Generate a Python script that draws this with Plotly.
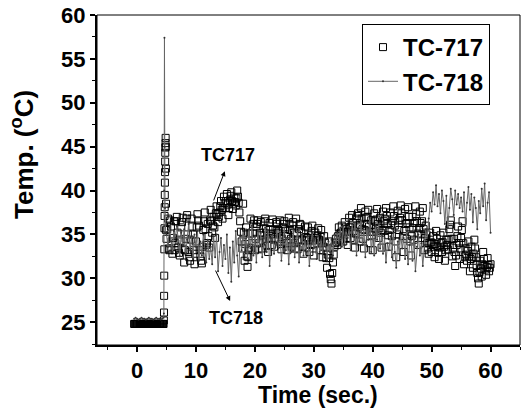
import numpy as np
import plotly.graph_objects as go

# ---------------- data ----------------
# TC-717 (squares) - pre-heating baseline, densely sampled
t717_pre_start, t717_pre_step = -0.5, 0.1
v717_pre = [24.8, 24.8, 24.8, 24.8, 24.8, 24.8, 24.8, 24.8, 24.8, 24.8,
            24.8, 24.8, 24.8, 24.8, 24.8, 24.8, 24.8, 24.8, 24.8, 24.8,
            24.8, 24.8, 24.8, 24.8, 24.8, 24.8, 24.8, 24.8, 24.8, 24.8,
            24.8, 24.8, 24.8, 24.8, 24.8, 24.8, 24.8, 24.8, 24.8, 24.8,
            24.8, 24.8, 24.8, 24.8, 24.8, 24.8, 24.8, 24.8, 24.8, 24.8,
            24.8]
t717_spike = [4.55, 4.57, 4.59, 4.61, 4.63, 4.65, 4.67, 4.69, 4.71, 4.73, 4.75, 4.77, 4.79,
              4.81, 4.83, 4.85, 4.87, 4.89, 4.91, 4.93]
v717_spike = [25.2, 26.1, 28.0, 30.3, 33.3, 35.7, 37.1, 38.1, 39.5, 40.9, 42.1, 43.3, 44.3,
              44.9, 45.4, 46.0, 45.0, 42.5, 38.5, 35.5]
t_main_start, t_main_step = 5.0, 0.25
# samples at t = 5.0, 5.25, ... 60.0
v717_main = [
    34.5, 36.8, 33.2, 35.9,  32.8, 36.5, 34.0, 37.0,  33.5, 32.6, 35.8, 36.9,
    31.8, 34.5, 37.2, 33.0,  32.0, 36.8, 35.0, 31.6,  34.2, 37.3, 36.0, 32.5,
    31.7, 35.5, 37.5, 33.8,  36.2, 33.5, 37.8, 35.2,  37.0, 34.6, 38.2, 36.4,
    37.5, 38.8, 36.8, 39.3,  38.0, 39.6, 37.2, 38.9,  39.8, 37.9, 39.2, 38.3,
    40.0, 38.6, 36.5, 34.2,  38.5, 32.0, 35.8, 31.3,  33.5, 36.8, 34.0, 36.2,
    33.2, 35.9, 36.6, 34.0,  36.4, 33.4, 35.2, 36.8,  34.5, 33.0, 36.3, 35.0,
    36.7, 33.6, 35.5, 36.2,  34.2, 36.6, 33.3, 35.8,  36.5, 34.8, 33.2, 36.9,
    35.5, 33.6, 36.4, 34.0,  36.8, 33.3, 35.6, 36.1,  34.4, 32.8, 35.9, 33.5,
    35.8, 33.0, 34.9, 36.0,  32.6, 35.2, 34.0, 35.7,  33.2, 35.5, 32.4, 34.8,
    33.5, 31.2, 34.2, 30.5,  29.4, 31.8, 33.6, 34.5,  33.8, 35.8, 34.4, 36.0,
    34.2, 36.4, 35.3, 33.8,  36.9, 34.6, 37.2, 35.4,  33.5, 36.8, 37.4, 34.2,
    38.0, 35.6, 33.4, 37.6,  36.2, 37.8, 34.0, 36.6,  33.2, 37.4, 35.6, 37.9,
    34.6, 36.9, 33.5, 37.6,  35.4, 38.0, 36.2, 33.6,  37.5, 34.8, 38.2, 36.0,
    32.4, 37.7, 35.5, 38.3,  36.6, 33.0, 37.9, 34.5,  38.1, 35.8, 32.6, 37.0,
    34.4, 38.2, 36.5, 33.8,  37.6, 35.0, 38.0, 33.2,  36.0, 34.0, 32.8, 35.2,
    33.0, 34.8, 32.4, 35.4,  33.6, 32.2, 34.9, 33.0,  35.2, 32.0, 34.4, 33.3,
    35.6, 36.6, 32.5, 34.5,  31.4, 33.8, 35.9, 32.2,  34.6, 36.5, 31.6, 33.4,
    32.0, 34.2, 30.8, 33.6,  31.2, 34.4, 32.4, 30.6,  29.4, 32.0, 30.2, 33.0,
    31.5, 30.4, 32.3, 30.8,  31.6,
]
# in-between samples at t = 5.125, 5.375, ... 59.875
v717_mid = [
    35.6, 33.4, 36.6, 34.2,  34.6, 33.2, 36.5, 35.2,  32.9, 34.2, 36.4, 33.3,
    33.2, 36.8, 35.0, 32.4,  34.4, 35.9, 33.2, 32.8,  35.8, 36.6, 33.2, 32.0,
    33.6, 36.5, 35.6, 34.0,  34.8, 36.6, 36.5, 36.0,  35.8, 37.4, 37.3, 37.0,
    38.2, 37.8, 38.0, 38.6,  38.8, 38.4, 38.0, 39.4,  38.8, 38.5, 38.7, 39.1,
    39.3, 37.5, 35.3, 33.4,  35.2, 33.9, 32.5, 32.4,  35.1, 33.4, 35.1, 36.6,
    34.5, 36.2, 33.3, 35.2,  34.9, 34.3, 36.5, 35.6,  33.7, 34.6, 35.6, 33.8,
    35.1, 34.5, 36.4, 35.2,  35.4, 33.9, 34.5, 36.2,  35.6, 34.0, 35.0, 36.2,
    34.5, 36.0, 35.2, 33.4,  35.0, 34.4, 36.2, 35.2,  33.6, 34.3, 34.7, 34.6,
    34.4, 33.9, 35.4, 34.3,  33.9, 34.6, 34.8, 34.4,  34.3, 34.0, 33.6, 34.1,
    32.3, 32.7, 32.3, 29.9,  30.6, 32.7, 34.0, 34.1,  34.8, 35.1, 35.2, 35.1,
    35.3, 35.8, 34.5, 35.3,  35.8, 35.9, 36.3, 34.4,  35.1, 37.1, 35.8, 36.1,
    36.8, 34.5, 35.5, 36.9,  37.0, 35.9, 35.3, 34.9,  35.3, 36.5, 36.7, 36.2,
    35.7, 35.2, 35.5, 36.5,  36.7, 37.1, 34.9, 35.5,  36.1, 36.5, 37.1, 34.2,
    35.0, 36.6, 36.9, 37.4,  34.8, 35.4, 36.2, 36.3,  37.0, 34.2, 34.8, 35.7,
    36.3, 37.3, 35.1, 35.7,  36.3, 36.5, 35.6, 34.6,  35.0, 33.4, 34.0, 34.1,
    33.9, 33.6, 33.9, 34.5,  32.9, 33.5, 34.0, 34.1,  33.6, 33.2, 33.8, 34.4,
    36.1, 34.5, 33.5, 33.0,  32.6, 34.8, 34.0, 33.4,  35.5, 34.0, 32.5, 32.7,
    33.1, 32.5, 32.2, 32.4,  32.8, 33.4, 31.5, 30.0,  30.7, 31.1, 31.6, 32.2,
    31.0, 31.3, 31.5, 31.2,
]

# TC-718 (thin line)
t718_pre = [-0.5, -0.25, 0.0, 0.25, 0.5, 0.75, 1.0, 1.25, 1.5, 1.75, 2.0, 2.25, 2.5, 2.75,
            3.0, 3.25, 3.5, 3.75, 4.0, 4.25, 4.5]
v718_pre = [25.4, 25.5, 25.4, 25.3, 25.4, 25.5, 25.4, 25.4, 25.3, 25.4, 25.5, 25.4, 25.4, 25.3,
            25.4, 25.5, 25.4, 25.4, 25.3, 25.4, 25.5]
t718_spike = [4.55, 4.6, 4.65, 4.7, 4.75, 4.85]
v718_spike = [26.0, 40.0, 57.4, 45.0, 38.0, 35.2]
v718_main = [
    35.0, 33.6, 35.8, 34.2,  33.0, 35.4, 34.6, 36.0,  34.0, 32.5, 35.2, 33.8,
    35.6, 32.8, 34.4, 36.2,  33.2, 34.8, 32.2, 35.0,  33.6, 35.4, 32.0, 34.2,
    32.6, 35.0, 33.4, 31.8,  34.4, 32.2, 33.6, 31.6,  34.8, 32.4, 35.0, 30.8,
    33.0, 34.6, 31.4, 33.8,  32.2, 35.0, 30.6, 33.5,  29.6, 34.2, 31.8, 35.4,
    32.6, 30.2, 34.8, 33.2,  35.4, 33.0, 34.6, 32.2,  35.6, 33.4, 36.0, 32.6,
    34.8, 31.8, 35.4, 33.6,  35.2, 32.4, 34.0, 35.8,  33.0, 35.5, 31.4, 34.6,
    35.0, 32.8, 34.2, 35.6,  33.4, 35.2, 32.0, 34.4,  35.8, 33.2, 34.6, 31.6,
    34.8, 33.0, 35.6, 32.4,  34.2, 35.4, 31.8, 34.0,  35.0, 32.6, 34.4, 33.0,
    34.8, 31.4, 34.0, 35.2,  33.4, 34.6, 32.2, 34.8,  33.0, 34.4, 32.8, 35.0,
    33.6, 32.0, 34.2, 33.0,  34.4, 32.6, 35.0, 33.8,  35.2, 34.0, 35.8, 33.6,
    36.0, 33.8, 35.4, 34.6,  35.6, 33.2, 36.2, 34.8,  36.4, 32.6, 35.4, 34.2,
    36.6, 33.8, 35.6, 32.4,  35.8, 34.4, 36.8, 33.0,  35.2, 32.6, 36.0, 34.4,
    36.2, 33.4, 35.0, 32.8,  34.6, 31.8, 34.0, 33.2,  34.8, 32.4, 35.2, 33.0,
    31.2, 34.2, 32.8, 35.0,  33.4, 34.6, 32.2, 35.4,  31.6, 33.8, 34.4, 32.0,
    34.8, 30.8, 33.6, 35.0,  32.6, 34.0, 31.4, 33.8,  35.6, 34.6, 36.8, 38.6,
    37.6, 39.8, 38.4, 40.6,  38.2, 39.6, 37.4, 40.0,  38.8, 36.2, 39.4, 35.8,
    38.0, 40.2, 39.0, 37.2,  40.0, 38.4, 39.6, 38.0,  39.2, 37.6, 39.8, 36.0,
    38.6, 40.4, 37.8, 39.6,  36.4, 39.2, 38.0, 35.6,  38.8, 37.4, 40.2, 38.2,
    40.8, 36.6, 38.6, 39.8,  35.2,
]

x_ticks = [0, 10, 20, 30, 40, 50, 60]
y_ticks = [25, 30, 35, 40, 45, 50, 55, 60]

# sample clocks
t717_pre = list(t717_pre_start + t717_pre_step * np.arange(len(v717_pre)))
t_main = list(t_main_start + t_main_step * np.arange(len(v717_main)))
t_mid = list(t_main_start + t_main_step / 2 + t_main_step * np.arange(len(v717_mid)))

# interleave main and in-between samples in time order
t717_body, v717_body = [], []
for i in range(len(v717_main)):
    t717_body.append(t_main[i]); v717_body.append(v717_main[i])
    if i < len(v717_mid):
        t717_body.append(t_mid[i]); v717_body.append(v717_mid[i])

t717 = t717_pre + t717_spike + t717_body
v717 = v717_pre + v717_spike + v717_body
t718 = t718_pre + t718_spike + t_main
v718 = v718_pre + v718_spike + v718_main

FONT = "Liberation Sans, Arial, sans-serif"

fig = go.Figure()
fig.add_trace(go.Scatter(
    x=t717, y=v717, mode="markers", name="<b>TC-717</b>",
    marker=dict(symbol="square-open", size=7, color="black",
                line=dict(color="black", width=1)),
))
fig.add_trace(go.Scatter(
    x=t718, y=v718, mode="lines+markers", name="<b>TC-718</b>",
    line=dict(color="#666666", width=1),
    marker=dict(symbol="circle", size=2, color="#333333"),
))

axis_common = dict(
    showgrid=False, zeroline=False, showline=True, linecolor="black", linewidth=2,
    ticks="outside", ticklen=5, tickwidth=1.5, tickcolor="black", automargin=False,
    tickfont=dict(family=FONT, size=22, color="black"),
)
fig.update_xaxes(range=[-6.8, 65], tickmode="array", tickvals=x_ticks,
                 ticktext=[f"<b>{v}</b>" for v in x_ticks],
                 minor=dict(ticks="outside", ticklen=3, tickwidth=1, tickcolor="black", dtick=5, tick0=0),
                 **axis_common)
fig.update_yaxes(range=[22.4, 60], tickmode="array", tickvals=y_ticks,
                 ticktext=[f"<b>{v}</b>" for v in y_ticks],
                 minor=dict(ticks="outside", ticklen=3, tickwidth=1, tickcolor="black", dtick=2.5, tick0=25),
                 **axis_common)

fig.add_shape(type="rect", xref="paper", yref="paper", x0=0, y0=0, x1=1, y1=1,
              line=dict(color="black", width=1), layer="above")

# axis titles
fig.add_annotation(text="<b>Time (sec.)</b>", xref="paper", yref="paper", x=(317.5 - 97) / 423,
                   y=(345 - 395) / 330, showarrow=False, yanchor="middle",
                   font=dict(family=FONT, size=23, color="black"))
fig.add_annotation(text="<b>Temp. (<sup>o</sup>C)</b>", xref="paper", yref="paper",
                   x=(23 - 97) / 423, y=(345 - 155) / 330, showarrow=False, textangle=-90,
                   xanchor="center", yanchor="middle",
                   font=dict(family=FONT, size=26, color="black"))

# labels with arrows
fig.add_annotation(text="<b>TC717</b>", x=15.4, y=44.1, showarrow=False,
                   font=dict(family=FONT, size=18, color="black"))
fig.add_annotation(text="", x=14.9, y=42.2, ax=12.9, ay=38.7, axref="x", ayref="y",
                   showarrow=True, arrowhead=2, arrowsize=1, arrowwidth=1, arrowcolor="black")
fig.add_annotation(text="<b>TC718</b>", x=16.8, y=25.5, showarrow=False,
                   font=dict(family=FONT, size=18, color="black"))
fig.add_annotation(text="", x=15.8, y=27.4, ax=13.2, ay=31.05, axref="x", ayref="y",
                   showarrow=True, arrowhead=2, arrowsize=1, arrowwidth=1, arrowcolor="black")

fig.update_layout(
    width=530, height=418,
    margin=dict(l=97, r=10, t=15, b=73, autoexpand=False),
    paper_bgcolor="white", plot_bgcolor="white",
    showlegend=True,
    legend=dict(x=(362 - 97) / 423, y=1 - (24 - 15) / 330, xanchor="left", yanchor="top",
                bordercolor="black", borderwidth=1, bgcolor="white",
                font=dict(family=FONT, size=24, color="black"),
                itemwidth=30),
)

fig.write_html("out.html", config={"displayModeBar": False},
               post_script="document.body.style.margin='0';")
